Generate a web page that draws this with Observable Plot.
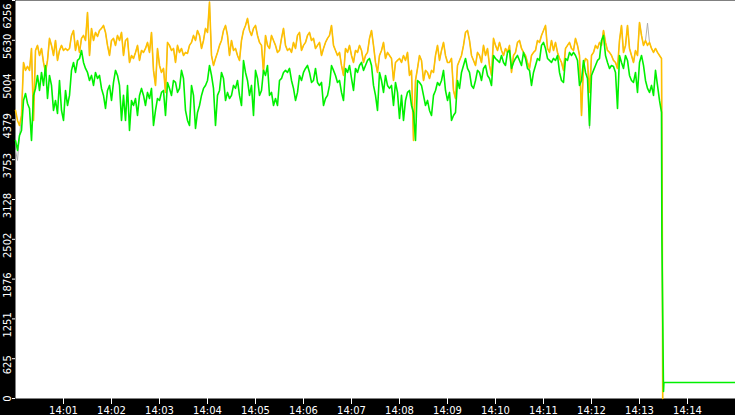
<!DOCTYPE html>
<html><head><meta charset="utf-8">
<script src="https://cdn.jsdelivr.net/npm/d3@7"></script>
<script src="https://cdn.jsdelivr.net/npm/@observablehq/plot@0.6"></script>
<style>html,body{margin:0;padding:0;background:#000;overflow:hidden}</style>
</head><body><div id="chart"></div>
<script>
// seconds after 14:00:00, one sample every 2.5 s
const startSeconds = 0;
const sampleInterval = 2.5;

const orangeValues = [
4528,4371,4292,4449,5282,5157,5220,5157,5502,4371,
5471,5550,5392,5502,5282,5125,5314,5660,5550,5392,
5628,5314,5471,5550,5471,5502,5471,5502,5707,5785,
5471,5628,5440,5660,5707,5628,6068,5392,5817,5628,
5754,5691,5785,5817,5864,5754,5550,5392,5628,5660,
5550,5707,5628,5754,5392,5628,5660,5282,5392,5345,
5440,5550,5314,5471,5440,5502,5597,5440,5754,5157,
4921,5502,5235,5125,5188,4811,5597,5550,5471,5502,
5282,5550,5440,5502,5392,5440,5424,5550,5597,5707,
5628,5785,5707,5502,5628,5817,5754,6230,5392,5235,
5345,5440,5550,5628,5785,5864,5707,5392,5628,5471,
5502,5392,5314,5628,5785,5864,5974,5785,5707,5817,
5864,5707,5597,5550,5125,5707,5550,5502,5707,5628,
5550,5440,5471,5660,5817,5550,5471,5502,5440,5597,
5502,5707,5754,5471,5550,5597,5707,5754,5628,5660,
5502,5550,5597,5392,5502,5597,5660,5707,5864,5550,
5471,5392,5440,5235,5078,5502,5440,5550,5392,5282,
5471,5440,5550,5471,5282,5392,5440,5660,5785,5550,
5282,5125,5392,5471,5597,5345,5440,5392,5345,4999,
5282,5314,5345,5282,5392,5314,5440,5078,5157,4056,
4999,5188,5392,5314,4999,5157,5125,5031,5157,5125,
5392,5550,5314,5471,5597,5392,5282,5282,5345,4842,
4716,5235,5314,5392,5550,5754,5785,5628,5392,5314,
5235,5440,5392,5282,5550,5392,5502,5235,5078,5660,
5550,5471,5597,5471,5392,5502,5440,5550,5125,5392,
5440,5597,5628,5502,5440,5392,5282,5188,5392,5440,
5471,5628,5597,5707,5785,5864,5502,5440,5628,5471,
5597,5440,5345,5282,5157,5502,5550,5597,5502,5471,
5660,5550,5392,4449,5235,5345,5314,4811,5392,5440,
5550,5502,5597,5550,5785,5597,5471,5440,5392,5314,
5282,5188,5628,5864,5440,5550,5864,5502,5392,5282,
5471,5392,5911,5707,5550,5628,5550,5597,5502,5440,
5502,5440,5392,5345
];

const greenValues = [
4056,3899,4135,4213,4685,4795,4638,4559,4056,4764,
4874,5078,4842,5125,4921,5235,4716,5078,4921,4528,
4685,4481,4999,4528,4371,4842,4606,4764,5157,5282,
5125,5314,5345,5471,5282,5188,5125,4999,5078,4921,
5125,5031,5078,4874,4764,4559,4842,4921,4685,4968,
5157,5078,4921,4371,4764,4371,4921,4213,4685,4606,
4716,4449,4764,4874,4764,4606,4811,4716,4874,4292,
4528,4716,4685,4811,4842,4449,4968,4874,4764,4999,
4968,4811,4874,5157,5031,4528,4371,4292,4921,4764,
4245,4496,4606,4764,4874,4921,4999,5235,5078,4874,
4292,4764,4842,5125,5031,4685,4811,4716,4764,4921,
4874,4999,4764,4606,5314,5125,4999,4764,4921,4449,
5157,5031,4764,4842,5157,5078,5235,4764,4811,4606,
4716,4606,4999,5031,5125,5157,5125,5188,4999,4874,
4685,4811,5078,4999,5125,5188,5235,5125,4968,4999,
5188,4968,4921,4968,4606,4716,4764,4921,5235,5157,
5078,4968,4999,4811,4685,5188,5125,5235,5031,4842,
5188,5125,5235,5282,5157,5235,5314,5345,5235,4921,
4764,4528,5125,4999,4811,5078,4921,4874,4921,4606,
4968,4811,4402,4764,4371,4685,4811,4842,4606,4496,
4056,4999,4968,4921,4764,4606,4685,4528,4449,4764,
4842,4968,4921,4999,5157,4842,4685,4811,4371,4449,
4496,4999,4874,5125,5235,5345,5188,5125,4921,4874,
4999,5157,5125,4999,5188,5235,5078,5031,4921,5392,
5345,5314,5282,5392,5282,5235,5440,5471,5188,5282,
5345,5392,5314,5235,5440,5345,5188,5157,4921,5125,
5235,5345,5314,5550,5597,5502,5345,5314,5282,5345,
5314,5392,5125,4999,4968,5345,5314,5440,5392,5440,
5392,5314,4921,4999,5314,5125,5031,4292,5078,5157,
5235,5314,5345,5628,5707,5392,5282,5188,5235,5220,
5125,4559,5392,5282,5188,5392,5314,5078,4999,4968,
5125,4811,5282,5392,5235,4999,4874,4811,4921,4764,
5157,4921,4685,4496
];

const grayValues = [
3899,3741,4135,4449,5282,5157,5220,5157,5502,4371,
5471,5550,5392,5502,5282,5125,5314,5660,5550,5392,
5628,5314,5471,5550,5471,5502,5471,5502,5707,5785,
5471,5628,5440,5660,5707,5628,6068,5392,5817,5628,
5754,5691,5785,5817,5864,5754,5550,5392,5628,5660,
5550,5707,5628,5754,5392,5628,5660,5282,5392,5345,
5440,5550,5314,5471,5440,5502,5597,5440,5754,5157,
4921,5502,5235,5125,5188,4811,5597,5550,5471,5502,
5282,5550,5440,5502,5392,5440,5424,5550,5597,5707,
5628,5785,5707,5502,5628,5817,5754,6230,5392,5235,
5345,5440,5550,5628,5785,5864,5707,5392,5628,5471,
5502,5392,5314,5628,5785,5864,5974,5785,5707,5817,
5864,5707,5597,5550,5125,5707,5550,5502,5707,5628,
5550,5440,5471,5660,5817,5550,5471,5502,5440,5597,
5502,5707,5754,5471,5550,5597,5707,5754,5628,5660,
5502,5550,5597,5392,5502,5597,5660,5707,5864,5550,
5471,5392,5440,5235,5078,5502,5440,5550,5392,5282,
5471,5440,5550,5471,5282,5392,5440,5660,5785,5550,
5282,5125,5392,5471,5597,5345,5440,5392,5345,4999,
5282,5314,5345,5282,5392,5314,5440,5078,5157,4056,
4999,5188,5392,5314,4999,5157,5125,5031,5157,5125,
5392,5550,5314,5471,5597,5392,5282,5282,5345,4842,
4716,5235,5314,5392,5550,5754,5785,5628,5392,5314,
5235,5440,5392,5282,5550,5392,5502,5235,5078,5660,
5550,5471,5597,5471,5392,5502,5440,5550,5125,5392,
5440,5597,5628,5502,5440,5392,5282,5188,5392,5440,
5471,5628,5597,5707,5785,5864,5502,5440,5628,5471,
5597,5440,5345,5282,5157,5502,5550,5597,5502,5471,
5660,5550,5392,4449,5235,5345,5314,4245,5392,5440,
5550,5502,5597,5550,5785,5597,5471,5440,5392,5314,
5282,5188,5628,5864,5440,5550,5864,5502,5392,5282,
5471,5392,5911,5707,5550,5628,5900,5597,5502,5440,
5502,5440,5392,5345
];

// the drop at the end of the run
const orangeTailSeconds = [808.5, 809];
const orangeTailValues = [2641, 0];
const grayTailSeconds = [808.5, 809];
const grayTailValues = [2641, 0];
const greenTailSeconds = [808, 810, 810.5, 900];
const greenTailValues = [2531, 110, 252, 252];

const yTicks = [0, 625.6, 1251.2, 1876.8, 2502.4, 3128, 3753.6, 4379.2, 5004.8, 5630.4, 6256];
const yTickLabels = ["0","625","1251","1876","2502","3128","3753","4379","5004","5630","6256"];
const xTicks = [60,120,180,240,300,360,420,480,540,600,660,720,780,840];
const xTickLabels = ["14:01","14:02","14:03","14:04","14:05","14:06","14:07","14:08","14:09","14:10","14:11","14:12","14:13","14:14"];

function series(values, tailT, tailV) {
  const rows = values.map((v, i) => ({t: startSeconds + i * sampleInterval, v}));
  tailT.forEach((t, i) => rows.push({t, v: tailV[i]}));
  return rows;
}
const gray = series(grayValues, grayTailSeconds, grayTailValues);
const orange = series(orangeValues, orangeTailSeconds, orangeTailValues);
const green = series(greenValues, greenTailSeconds, greenTailValues);

const labelOf = d => yTickLabels[yTicks.indexOf(d)];
const font = {fontFamily: "DejaVu Sans", fontSize: 10};
const yLabel = {y: d => d, text: labelOf, frameAnchor: "left", textAnchor: "middle", lineAnchor: "middle", dx: -7.5, rotate: -90, fill: "white", ...font};

const chart = Plot.plot({
  width: 735, height: 415,
  marginLeft: 15, marginRight: 0, marginTop: 0, marginBottom: 17,
  style: {background: "#000", color: "white", fontFamily: "DejaVu Sans", fontSize: "10px"},
  x: {domain: [0, 900], label: null},
  y: {domain: [0, 6256], label: null},
  marks: [
    Plot.frame({fill: "white", stroke: null}),
    Plot.line(gray, {x: "t", y: "v", stroke: "#a8a8a8", strokeWidth: 0.9, curve: "linear"}),
    Plot.line(orange, {x: "t", y: "v", stroke: "#ffc000", strokeWidth: 1.6, curve: "linear"}),
    Plot.line(green, {x: "t", y: "v", stroke: "#00f000", strokeWidth: 1.6, curve: "linear"}),
    Plot.axisX(xTicks, {tickSize: 6, tickPadding: 2, stroke: "white", fill: "white", strokeOpacity: 1,
      tickFormat: (d, i) => xTickLabels[i], ...font}),
    Plot.axisY(yTicks, {tickSize: 3, stroke: "white", strokeOpacity: 1, tickFormat: () => ""}),
    Plot.text(yTicks.slice(0, 1), {...yLabel, dy: 0}),
    Plot.text(yTicks.slice(1, -1), {...yLabel, dy: 6}),
    Plot.text(yTicks.slice(-1), {...yLabel, dy: 15.5})
  ]
});
document.getElementById("chart").appendChild(chart);
</script>
</body></html>
